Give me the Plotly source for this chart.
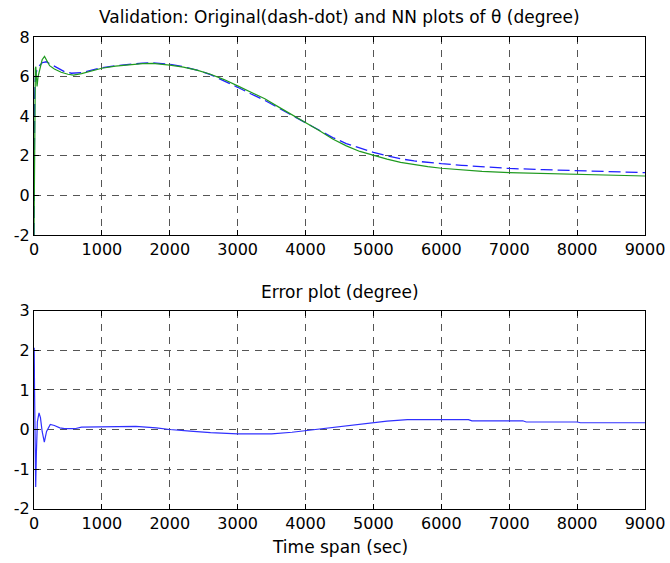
import plotly.graph_objects as go
from plotly.subplots import make_subplots

# ---- data ----
t_nn = [0, 5, 12, 20, 27, 35, 45, 60, 90, 120, 155, 185, 230, 300, 400, 500, 580, 700, 850,
        1000, 1200, 1400, 1600, 1750, 1900, 2000, 2200, 2400, 2600, 2800, 3000, 3200, 3400,
        3600, 3800, 4000, 4200, 4400, 4600, 4800, 5000, 5200, 5400, 5600, 5800, 6000, 6300,
        6600, 7000, 7500, 8000, 8500, 9000]
theta_nn = [-2.0, 1.0, 5.0, 6.4, 6.5, 5.8, 5.5, 6.0, 6.5, 6.85, 7.02, 6.8, 6.55, 6.38, 6.22,
            6.12, 6.08, 6.15, 6.3, 6.42, 6.53, 6.6, 6.66, 6.67, 6.63, 6.58, 6.48, 6.33, 6.12,
            5.85, 5.53, 5.2, 4.88, 4.47, 4.08, 3.68, 3.28, 2.85, 2.5, 2.22, 2.02, 1.83, 1.67,
            1.55, 1.45, 1.37, 1.28, 1.21, 1.15, 1.1, 1.06, 1.02, 0.98]

t_orig = [0, 4, 10, 20, 40, 80, 120, 180, 250, 350, 450, 550, 700, 850, 1000, 1200, 1400,
          1600, 1750, 1900, 2000, 2200, 2400, 2600, 2800, 3000, 3200, 3400, 3600, 3800, 4000,
          4200, 4400, 4600, 4800, 5000, 5200, 5400, 5600, 5800, 6000, 6300, 6600, 7000, 7500,
          8000, 8500, 9000]
theta_orig = [-2.0, 2.5, 5.0, 6.0, 6.3, 6.55, 6.7, 6.75, 6.62, 6.4, 6.25, 6.17, 6.2, 6.33,
              6.45, 6.55, 6.63, 6.68, 6.7, 6.66, 6.62, 6.5, 6.33, 6.1, 5.8, 5.46, 5.12, 4.8,
              4.42, 4.05, 3.65, 3.3, 2.92, 2.62, 2.38, 2.17, 2.0, 1.85, 1.74, 1.66, 1.6, 1.52,
              1.44, 1.36, 1.3, 1.24, 1.18, 1.15]

t_err = [0, 3, 8, 15, 25, 35, 50, 74, 95, 120, 152, 185, 240, 300, 380, 450, 600, 700, 1000,
         1500, 1800, 2000, 2300, 2600, 3000, 3500, 3800, 4000, 4300, 4600, 5000, 5200, 5500,
         6000, 6400, 6450, 7200, 7250, 8000, 8050, 9000]
err = [2.05, 2.05, 1.0, 0.0, -1.45, -0.6, 0.2, 0.42, 0.3, -0.05, -0.32, -0.05, 0.13, 0.1,
       0.04, 0.02, 0.02, 0.06, 0.07, 0.08, 0.04, 0.0, -0.04, -0.08, -0.11, -0.11, -0.07,
       -0.03, 0.04, 0.1, 0.18, 0.21, 0.25, 0.25, 0.25, 0.22, 0.22, 0.19, 0.19, 0.17, 0.17]

x_ticks = [0, 1000, 2000, 3000, 4000, 5000, 6000, 7000, 8000, 9000]
top_y_ticks = [-2, 0, 2, 4, 6, 8]
bot_y_ticks = [-2, -1, 0, 1, 2, 3]

top_title = "Validation: Original(dash-dot) and NN plots of θ (degree)"
bot_title = "Error plot (degree)"
x_title = "Time span (sec)"

# ---- figure ----
FONT = "DejaVu Sans, Liberation Sans, Arial, sans-serif"
W, H = 670, 563


def px_x(v):
    return v / W


def px_y(v):
    return 1 - v / H


fig = make_subplots(rows=2, cols=1)

fig.add_trace(go.Scatter(x=t_orig, y=theta_orig, mode="lines",
                         line=dict(color="#2020ff", width=1.3, dash="12px,5px")), row=1, col=1)
fig.add_trace(go.Scatter(x=t_nn, y=theta_nn, mode="lines",
                         line=dict(color="#1f9a1f", width=1.2)), row=1, col=1)
fig.add_trace(go.Scatter(x=t_err, y=err, mode="lines",
                         line=dict(color="#3030ff", width=1.2)), row=2, col=1)

axis_common = dict(showline=True, linecolor="black", linewidth=1, mirror="ticks",
                   ticks="inside", ticklen=5, tickcolor="black",
                   showgrid=True, gridcolor="#555555", gridwidth=1, griddash="7px,6px",
                   zeroline=False, tickfont=dict(family=FONT, size=16, color="black"),
                   automargin=False, ticklabeloverflow="allow")

fig.update_xaxes(range=[0, 9000], tickvals=x_ticks, ticktext=[str(v) for v in x_ticks],
                 domain=[px_x(34), px_x(645)], **axis_common)
fig.update_yaxes(**axis_common)
fig.update_yaxes(range=[-2, 8], tickvals=top_y_ticks, ticktext=[str(v) for v in top_y_ticks],
                 domain=[px_y(235), px_y(37)], row=1, col=1)
fig.update_yaxes(range=[-2, 3], tickvals=bot_y_ticks, ticktext=[str(v) for v in bot_y_ticks],
                 domain=[px_y(508.7), px_y(310.7)], row=2, col=1)

cx = px_x((34 + 645) / 2)
for txt, yy in [(top_title, 17), (bot_title, 292), (x_title, 547)]:
    fig.add_annotation(text=txt, x=cx, y=px_y(yy), xref="paper", yref="paper",
                       showarrow=False, font=dict(family=FONT, size=17, color="black"),
                       xanchor="center", yanchor="middle")

fig.update_layout(width=W, height=H, margin=dict(l=0, r=0, t=0, b=0),
                  paper_bgcolor="white", plot_bgcolor="white", showlegend=False,
                  hovermode=False)

# remove the default page margin so the figure fills the window exactly
fig.write_html("out.html", config={"displayModeBar": False, "staticPlot": True},
               post_script="document.body.style.margin='0';document.body.style.overflow='hidden';")
